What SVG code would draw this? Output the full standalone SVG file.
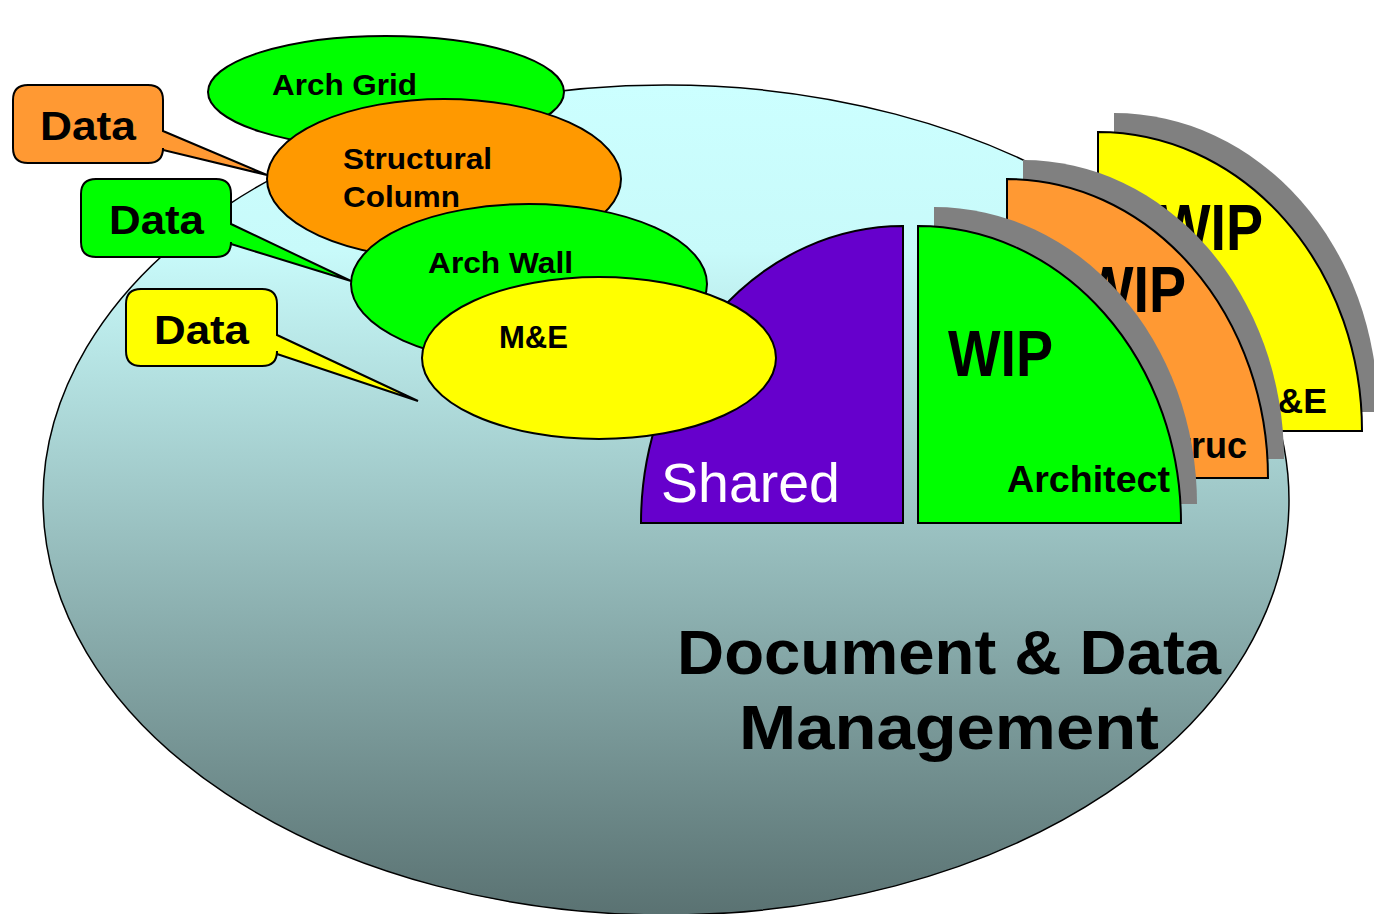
<svg xmlns="http://www.w3.org/2000/svg" width="1374" height="914" viewBox="0 0 1374 914">
<defs>
<linearGradient id="bg" x1="0" y1="0" x2="0" y2="1">
<stop offset="0" stop-color="#CCFFFF"/>
<stop offset="0.2" stop-color="#C8FAFA"/>
<stop offset="1" stop-color="#5A7272"/>
</linearGradient>
<style>
.s{stroke:#000;stroke-width:2}
.sh{fill:#808080}
.b{font-family:"Liberation Sans",Arial,sans-serif;font-weight:bold;fill:#000}
</style>
</defs>
<rect width="1374" height="914" fill="#fff"/>
<g id="ddm">
<ellipse cx="666" cy="500" rx="623" ry="415" fill="url(#bg)" stroke="#000" stroke-width="1.5"/>
<text class="b" x="677" y="674" font-size="63" textLength="544" lengthAdjust="spacingAndGlyphs">Document &amp; Data</text>
<text class="b" x="739" y="749" font-size="63" textLength="420" lengthAdjust="spacingAndGlyphs">Management</text>
</g>
<g id="shared">
<path class="s" d="M903,523 V226 A262,297 0 0 0 641,523 Z" fill="#6600CC"/>
<text x="661" y="502" font-family="'Liberation Sans',Arial,sans-serif" font-size="55" fill="#fff" textLength="179" lengthAdjust="spacingAndGlyphs">Shared</text>
</g>
<g id="wip-me">
<path class="sh" d="M1114,412 V113 A264,299 0 0 1 1378,412 Z"/>
<path class="s" d="M1098,431 V132 A264,299 0 0 1 1362,431 Z" fill="#FFFF00"/>
<text class="b" x="1158" y="250" font-size="64" textLength="105" lengthAdjust="spacingAndGlyphs">WIP</text>
<text class="b" x="1248" y="413" font-size="35" textLength="79" lengthAdjust="spacingAndGlyphs">M&amp;E</text>
</g>
<g id="wip-struc">
<path class="sh" d="M1023,459 V160 A261,299 0 0 1 1284,459 Z"/>
<path class="s" d="M1007,478 V179 A261,299 0 0 1 1268,478 Z" fill="#FF9933"/>
<text class="b" x="1081" y="312" font-size="64" textLength="105" lengthAdjust="spacingAndGlyphs">WIP</text>
<text class="b" x="1155" y="458" font-size="36" textLength="92" lengthAdjust="spacingAndGlyphs">Struc</text>
</g>
<g id="wip-arch">
<path class="sh" d="M934,504 V207 A263,297 0 0 1 1197,504 Z"/>
<path class="s" d="M918,523 V226 A263,297 0 0 1 1181,523 Z" fill="#00FF00"/>
<text class="b" x="948" y="376" font-size="64" textLength="105" lengthAdjust="spacingAndGlyphs">WIP</text>
<text class="b" x="1007" y="492" font-size="36" textLength="163" lengthAdjust="spacingAndGlyphs">Architect</text>
</g>
<g id="callouts">
<g id="data-orange">
<path class="s" d="M28,85 H148 Q163,85 163,100 V131 L267,175 L163,150 V148 Q163,163 148,163 H28 Q13,163 13,148 V100 Q13,85 28,85 Z" fill="#FF9933"/>
<text class="b" x="40" y="140" font-size="41" textLength="96" lengthAdjust="spacingAndGlyphs">Data</text>
</g>
<g id="data-green">
<path class="s" d="M96,179 H216 Q231,179 231,194 V224 L351,281 L231,244 V242 Q231,257 216,257 H96 Q81,257 81,242 V194 Q81,179 96,179 Z" fill="#00FF00"/>
<text class="b" x="109" y="234" font-size="41" textLength="95" lengthAdjust="spacingAndGlyphs">Data</text>
</g>
<g id="data-yellow">
<path class="s" d="M141,289 H262 Q277,289 277,304 V335 L418,401 L277,354 V351 Q277,366 262,366 H141 Q126,366 126,351 V304 Q126,289 141,289 Z" fill="#FFFF00"/>
<text class="b" x="154" y="344" font-size="41" textLength="95" lengthAdjust="spacingAndGlyphs">Data</text>
</g>
</g>
<g id="arch-grid">
<ellipse class="s" cx="386" cy="92" rx="178" ry="56" fill="#00FF00"/>
<text class="b" x="272" y="95" font-size="30" textLength="145" lengthAdjust="spacingAndGlyphs">Arch Grid</text>
</g>
<g id="structural-column">
<ellipse class="s" cx="444" cy="179" rx="177" ry="80" fill="#FF9900"/>
<text class="b" x="343" y="169" font-size="30" textLength="149" lengthAdjust="spacingAndGlyphs">Structural</text>
<text class="b" x="343" y="207" font-size="30" textLength="117" lengthAdjust="spacingAndGlyphs">Column</text>
</g>
<g id="arch-wall">
<ellipse class="s" cx="529" cy="284" rx="178" ry="80" fill="#00FF00"/>
<text class="b" x="428" y="273" font-size="30" textLength="145" lengthAdjust="spacingAndGlyphs">Arch Wall</text>
</g>
<g id="me">
<ellipse class="s" cx="599" cy="358" rx="177" ry="81" fill="#FFFF00"/>
<text class="b" x="499" y="348" font-size="31" textLength="69" lengthAdjust="spacingAndGlyphs">M&amp;E</text>
</g>
</svg>
